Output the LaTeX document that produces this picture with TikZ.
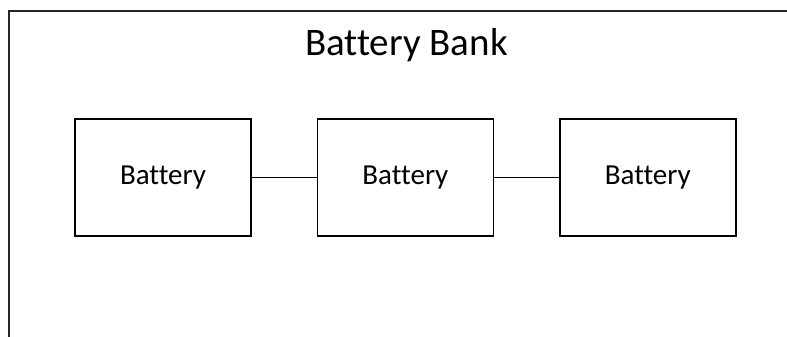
\documentclass[tikz,border=0pt]{standalone}
\usepackage{fontspec}
\setmainfont{Carlito}[Ligatures=NoCommon]
\usetikzlibrary{positioning}

\begin{document}
\begin{tikzpicture}[x=1pt,y=-1pt,
  b/.style={draw,line width=1.4pt,minimum width=176pt,minimum height=117pt,inner sep=0pt,font=\fontsize{29}{33}\selectfont},
  f/.style={draw,line width=1.9pt,black!85}]
\useasboundingbox (0,0) rectangle (787,337);
% outer frame, only top and left edges in view
\draw[f] (787,11) -- (9,11) -- (9,337);
\node[anchor=base,font=\fontsize{39}{43}\selectfont] (t) at (406.5,56) {Battery Bank};
\node[b] (b1) at (163,177.5) {Battery};
\node[b,right=65pt of b1] (b2) {Battery};
\node[b,right=65pt of b2] (b3) {Battery};
\draw[line width=1.3pt] (b1)--(b2); \draw[line width=1.3pt] (b2)--(b3);
\end{tikzpicture}
\end{document}
